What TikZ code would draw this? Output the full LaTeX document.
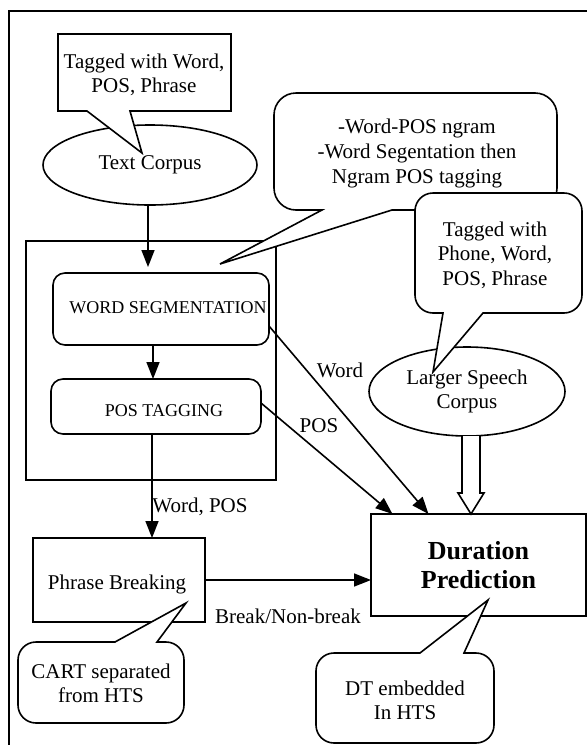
\documentclass[tikz,border=0pt]{standalone}
\usepackage{fontspec}
\setmainfont{Liberation Serif}
\usetikzlibrary{arrows.meta,shapes.geometric}
\begin{document}
\begin{tikzpicture}[x=1pt,y=-1pt,
  every node/.style={inner sep=0pt, outer sep=0pt},
  txt/.style={font=\fontsize{21}{24.5}\selectfont, align=center},
  smalltxt/.style={font=\fontsize{18}{21}\selectfont},
  boxr/.style={draw, line width=1.6pt, rounded corners=12pt, rectangle},
  boxs/.style={draw, line width=1.6pt, rectangle},
  oval/.style={draw, line width=1.6pt, ellipse},
  call/.style={draw, line width=1.6pt, fill=white, line join=miter},
  arr/.style={line width=1.6pt, -{Triangle[length=17pt,width=13pt]}},
]
\useasboundingbox (0,0) rectangle (587,745);
% outer frame
\draw[line width=1.3pt] (9,745) -- (9,11) -- (587,11);

% nodes
\node[oval, minimum width=214pt, minimum height=80pt, txt] (tc) at (150,165) {Text Corpus};
\node[boxs, minimum width=250pt, minimum height=239pt] (grp) at (151,360.5) {};
\node[boxr, minimum width=216pt, minimum height=72pt] (ws) at (161,309) {};
\node[smalltxt] (wst) at (168,308) {WORD SEGMENTATION};
\node[boxr, minimum width=210pt, minimum height=55pt] (pt) at (156,406.5) {};
\node[smalltxt] (ptt) at (164,411) {POS TAGGING};
\node[boxs, minimum width=172pt, minimum height=84pt] (pb) at (119,580) {};
\node[txt] (pbt) at (117,584) {Phrase Breaking};
\node[oval, minimum width=196pt, minimum height=89pt, txt] (lsc) at (467,391.5) {Larger Speech\\Corpus};
\node[boxs, minimum width=215pt, minimum height=102pt, font=\bfseries\fontsize{26}{29}\selectfont, align=center] (dp) at (478.5,565) {Duration\\Prediction};

% connectors
\draw[arr, shorten >=6pt] ([xshift=-2pt]tc.south) -- ([xshift=-2pt]tc.south |- ws.north);
\draw[arr] ([xshift=-8pt]ws.south) -- ([xshift=-8pt]ws.south |- pt.north);
\draw[arr] ([xshift=-4pt]pt.south) -- ([xshift=-4pt]pt.south |- pb.north);
\draw[arr] ([yshift=-17pt]ws.east) -- ([xshift=-50pt]dp.north);
\draw[arr] ([yshift=3.5pt]pt.east) -- ([xshift=-86pt]dp.north);
\draw[arr] (pb.east) -- (dp.west |- pb.east);
% hollow block arrow
\draw[line width=1.6pt, fill=white, line join=miter]
  ([xshift=-5pt]lsc.south) -- ++(0,57) -- ++(-4,0) -- ([xshift=-7.5pt]dp.north)
  -- ++(13,-21) -- ++(-4,0) -- ([xshift=13pt]lsc.south);

% labels
\node[txt] (lw) at (340,370) {Word};
\node[txt] (lp) at (319,426) {POS};
\node[txt] (lwp) at (200,507) {Word, POS};
\node[txt] (lb) at (288,616) {Break/Non-break};

% callouts
\draw[call] (142,153) -- (87,111) -- (58,111) -- (58,34) -- (231,34) -- (231,111) -- (130,111) -- cycle;
\node[txt] (c1) at (144,75) {Tagged with Word,\\POS, Phrase};

\draw[call] (220,264) -- (322,210) [rounded corners=22pt] -- (274,210) -- (274,93) -- (557,93) -- (557,210) [sharp corners] -- (392,210) -- cycle;
\node[txt, font=\fontsize{21}{25}\selectfont] (c2) at (417,153) {-Word-POS ngram\\-Word Segentation then\\Ngram POS tagging};

\draw[call] (433,372) -- (443,313) [rounded corners=18pt] -- (415,313) -- (415,193) -- (582,193) -- (582,313) [sharp corners] -- (483,313) -- cycle;
\node[txt] (c3) at (495,255) {Tagged with\\Phone, Word,\\POS, Phrase};

\draw[call] (186,603) -- (115,642) [rounded corners=18pt] -- (18,642) -- (18,723) -- (184,723) -- (184,642) [sharp corners] -- (157,642) -- cycle;
\node[txt] (c4) at (101,683.5) {CART separated\\from HTS};

\draw[call] (488,600) -- (420,653) [rounded corners=18pt] -- (316,653) -- (316,743) -- (494,743) -- (494,653) [sharp corners] -- (464,653) -- cycle;
\node[txt] (c5) at (405,700.5) {DT embedded\\In HTS};
\end{tikzpicture}
\end{document}
